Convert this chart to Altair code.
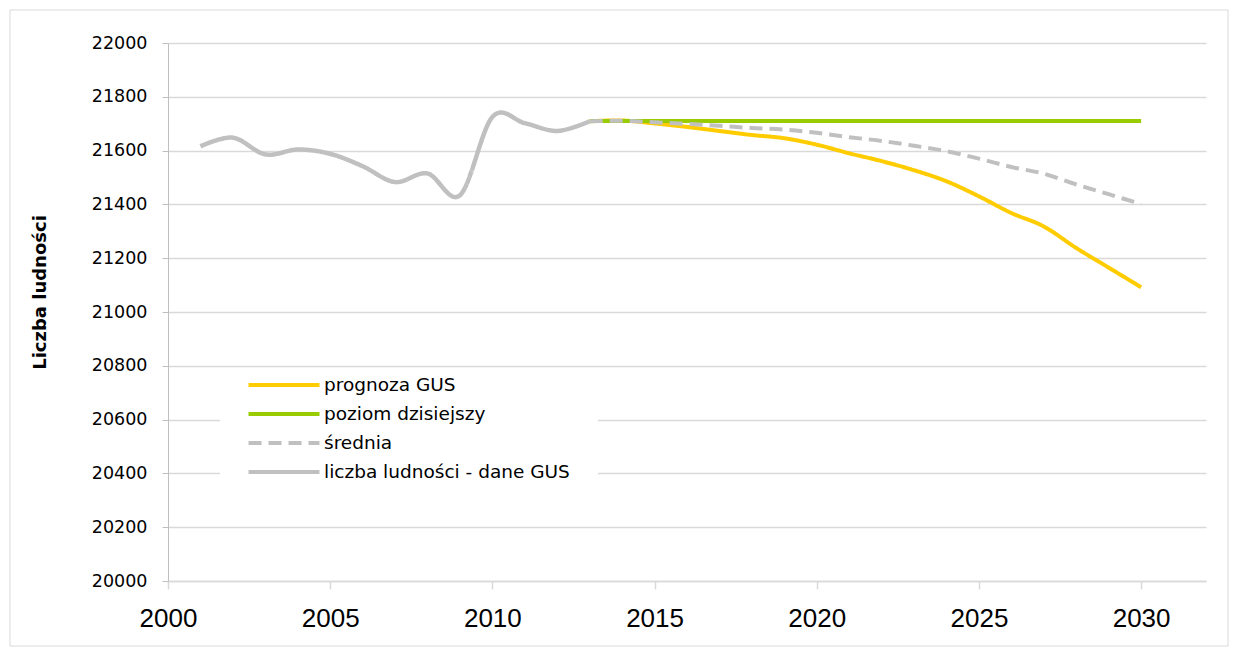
import altair as alt
import pandas as pd

# ---- data ----
hist_years = list(range(2001, 2014))
hist_vals = [21616, 21648, 21586, 21604, 21588, 21542, 21483, 21515, 21434, 21725, 21702, 21673, 21709]

fc_years = list(range(2013, 2031))
prognoza = [21709, 21712, 21701, 21688, 21673, 21658, 21646, 21622, 21590, 21561,
            21527, 21486, 21430, 21368, 21318, 21238, 21165, 21092]
poziom = [21710] * 18
srednia = [21709, 21711, 21705, 21699, 21692, 21684, 21678, 21666, 21650, 21636,
           21618, 21598, 21570, 21539, 21514, 21474, 21438, 21401]

series_names = ["prognoza GUS", "poziom dzisiejszy", "średnia", "liczba ludności - dane GUS"]
series_colors = ["#FFCC00", "#99CC00", "#C0C0C0", "#C0C0C0"]
series_dash = [[1, 0], [1, 0], [13, 7], [1, 0]]

x_ticks = [2000, 2005, 2010, 2015, 2020, 2025, 2030]
y_ticks = list(range(20000, 22001, 200))

rows = []
for y, v in zip(fc_years, prognoza):
    rows.append({"rok": y, "wartosc": v, "seria": series_names[0]})
for y, v in zip(fc_years, poziom):
    rows.append({"rok": y, "wartosc": v, "seria": series_names[1]})
for y, v in zip(fc_years, srednia):
    rows.append({"rok": y, "wartosc": v, "seria": series_names[2]})
for y, v in zip(hist_years, hist_vals):
    rows.append({"rok": y, "wartosc": v, "seria": series_names[3]})
df = pd.DataFrame(rows)

legend = alt.Legend(
    title=None,
    orient="none",
    legendX=78,
    legendY=331,
    padding=0,
    symbolType="M-4,0L4,0",
    symbolSize=315,
    symbolStrokeWidth=4,
    symbolOffset=27,
    labelOffset=29,
    labelFont="DejaVu Sans",
    labelFontSize=18.5,
    labelColor="#000000",
    labelLimit=400,
    rowPadding=8,
)

color = alt.Color("seria:N", scale=alt.Scale(domain=series_names, range=series_colors), legend=legend)
dash = alt.StrokeDash("seria:N", scale=alt.Scale(domain=series_names, range=series_dash), legend=legend)

xenc = alt.X(
    "rok:Q",
    scale=alt.Scale(domain=[2000, 2032], nice=False, zero=False),
    axis=alt.Axis(
        title=None, values=x_ticks, format="d", grid=False,
        domainColor="#D9D9D9", domainWidth=1.5,
        tickColor="#D9D9D9", tickWidth=1.5, tickSize=8,
        labelFont="Liberation Sans", labelFontSize=26, labelColor="#000000",
        labelPadding=16, labelFlush=False,
    ),
)
yenc = alt.Y(
    "wartosc:Q",
    scale=alt.Scale(domain=[20000, 22000], nice=False, zero=False),
    axis=alt.Axis(
        title="Liczba ludności", values=y_ticks, format="d",
        grid=True, gridColor="#D9D9D9", gridWidth=1.5,
        domainColor="#BFBFBF", domainWidth=1,
        tickColor="#BFBFBF", tickWidth=1, tickSize=6,
        labelFont="DejaVu Sans", labelFontSize=17.5, labelColor="#000000",
        labelPadding=15,
        titleFont="DejaVu Sans", titleFontSize=18, titleFontWeight="bold", titleColor="#000000",
        titleAngle=270, titleX=-128, titleY=249, titleAlign="center", titleBaseline="middle",
    ),
)

base = alt.Chart(df)

def series_layer(name, width):
    return base.transform_filter(alt.datum.seria == name).mark_line(
        strokeWidth=width, interpolate="cardinal"
    ).encode(x=xenc, y=yenc, color=color, strokeDash=dash)

one = pd.DataFrame({"a": [0]})
border = alt.Chart(one).mark_rect(fill="transparent", stroke="#D9D9D9", strokeWidth=1).encode(
    x=alt.value(-158), x2=alt.value(1060), y=alt.value(-33), y2=alt.value(603)
)
panel = alt.Chart(one).mark_rect(fill="#FFFFFF", strokeWidth=0).encode(
    x=alt.value(52), x2=alt.value(430), y=alt.value(326), y2=alt.value(446)
)

chart = alt.layer(
    border,
    panel,
    series_layer(series_names[0], 4),
    series_layer(series_names[1], 4),
    series_layer(series_names[2], 4),
    series_layer(series_names[3], 4.5),
).properties(
    width=1038,
    height=538,
    autosize=alt.AutoSizeParams(type="none"),
    padding={"left": 160, "top": 35, "right": 23, "bottom": 67},
    background="#FFFFFF",
).configure_view(strokeWidth=0)

chart.save("out.html", embed_options={"renderer": "svg", "actions": False})
